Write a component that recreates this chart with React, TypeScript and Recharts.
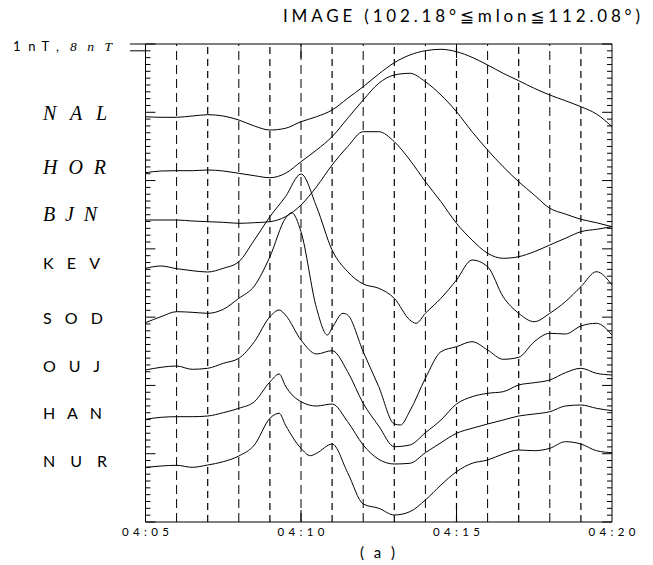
import React from 'react';
import { LineChart, Line, XAxis, YAxis, ReferenceLine } from 'recharts';

// minutes after 04:05 on x; height in plot units (0 = bottom frame, 478 = top frame) on y
const timeTicks = [0, 5, 10, 15];
const timeLabels = ['04:05', '04:10', '04:15', '04:20'];
const gridMinutes = [1, 2, 3, 4, 5, 6, 7, 8, 9, 10, 11, 12, 13, 14];

const stations = ['NAL', 'HOR', 'BJN', 'KEV', 'SOD', 'OUJ', 'HAN', 'NUR'];
const italicStations = ['NAL', 'HOR', 'BJN'];

const NAL = [[0, 405.3], [0.5, 404.7], [1, 404.7], [1.5, 406], [2, 407.3], [2.5, 406], [3, 402], [3.5, 396], [4, 392], [4.5, 393.7], [5, 400.3], [5.5, 405.3], [6, 412], [6.5, 423.7], [7, 435.3], [7.5, 448], [8, 459.3], [8.5, 467], [9, 471.3], [9.5, 472.7], [10, 470.3], [10.5, 464.7], [11, 457], [11.5, 448.7], [12, 441.3], [12.5, 433.7], [13, 427], [13.5, 421.3], [14, 415.3], [14.5, 408], [15, 395.3]];
const HOR = [[0, 349.3], [0.5, 351], [1, 351.3], [1.5, 351.3], [2, 352], [2.5, 351], [3, 348.7], [3.5, 346.3], [4, 344.3], [4.5, 348.7], [5, 360.3], [5.5, 372], [6, 385.3], [6.5, 403.7], [7, 422], [7.5, 438.7], [8, 447], [8.5, 448.7], [9, 440.3], [9.5, 427], [10, 410.3], [10.5, 390.3], [11, 372], [11.5, 355.3], [12, 340.3], [12.5, 327], [13, 313.7], [13.5, 308], [14, 302.7], [14.5, 299.3], [15, 295.3]];
const BJN = [[0, 302], [0.5, 302], [1, 302], [1.5, 301], [2, 300.3], [2.5, 299.7], [3, 298.7], [3.5, 299.3], [4, 300.3], [4.5, 305.3], [5, 317], [5.5, 335.3], [6, 357], [6.5, 375.3], [7, 390.3], [7.5, 390.3], [8, 380.3], [8.5, 362], [9, 340.3], [9.5, 320.3], [10, 298.7], [10.5, 282], [11, 268.7], [11.5, 263.7], [12, 265.3], [12.5, 270.3], [13, 277], [13.5, 283.7], [14, 290.3], [14.5, 292.7], [15, 295.3]];
const KEV = [[0, 253.7], [0.5, 256], [1, 253.3], [1.5, 251.3], [2, 250], [2.5, 253.7], [3, 260.3], [3.5, 282], [4, 305.3], [4.5, 325.3], [5, 348], [5.5, 315.3], [6, 272], [6.5, 250.3], [7, 238], [7.5, 233.7], [8, 223.7], [8.5, 202], [8.7, 198.7], [9, 208.7], [9.5, 223.7], [10, 242], [10.5, 262], [11, 255.3], [11.5, 225.3], [12, 208.7], [12.5, 200.3], [13, 208.7], [13.5, 220.3], [14, 235.3], [14.5, 250.3], [15, 237]];
const SOD = [[0, 199.3], [0.5, 205.3], [1, 210.3], [1.5, 209.7], [2, 208.7], [2.5, 212.7], [3, 223.7], [3.5, 236], [4, 265.3], [4.5, 303.7], [4.7, 309.3], [5, 290.3], [5.5, 213.7], [5.85, 187], [6, 194], [6.35, 208.7], [6.5, 207], [7, 170.3], [7.5, 135.3], [8, 98], [8.2, 97], [8.5, 111], [9, 143.7], [9.5, 170.3], [10, 175.3], [10.5, 180.3], [11, 172], [11.5, 162.7], [12, 164.7], [12.5, 180.3], [13, 188.7], [13.5, 188], [14, 196], [14.5, 198.7], [15, 187]];
const OUJ = [[0, 152], [0.5, 154.7], [1, 156], [1.5, 152.7], [2, 153.7], [2.5, 158.7], [3, 163.7], [3.5, 180.3], [4, 205.3], [4.3, 212], [4.5, 207], [5, 182], [5.5, 168], [6, 171.3], [6.5, 150.3], [7, 118.7], [7.5, 96], [8, 75.3], [8.5, 77], [9, 89.3], [9.5, 102], [10, 118], [10.5, 125.3], [11, 128.7], [11.5, 130.3], [12, 137], [12.5, 139.3], [13, 142], [13.5, 149.3], [14, 153.7], [14.5, 148.7], [15, 147]];
const HAN = [[0, 102.7], [0.5, 104.7], [1, 105.3], [1.5, 105.3], [2, 106], [2.5, 109.3], [3, 113.7], [3.5, 120.3], [4, 140], [4.3, 148], [4.5, 136], [5, 120.3], [5.5, 116], [6, 118], [6.5, 100.3], [7, 77], [7.5, 62.7], [8, 58], [8.5, 58.7], [9, 69.3], [9.5, 79.3], [10, 88.7], [10.5, 93.7], [11, 98], [11.5, 102], [12, 106], [12.5, 108], [13, 110.3], [13.5, 116], [14, 117], [14.5, 113.7], [15, 111.3]];
const NUR = [[0, 54.7], [0.5, 56], [1, 56.7], [1.5, 54.7], [2, 57], [2.5, 60.3], [3, 66], [3.5, 77], [4, 103.7], [4.3, 108.7], [4.5, 97], [5, 73.7], [5.3, 66.3], [5.5, 68.7], [6, 78], [6.5, 49.3], [7, 18], [7.5, 13.7], [8, 7], [8.5, 10.3], [9, 22], [9.5, 37], [10, 50.3], [10.5, 58.7], [11, 62], [11.5, 68], [12, 72], [12.5, 71.3], [13, 73.7], [13.5, 80.3], [14, 78], [14.5, 71.3], [15, 69.3]];

const series = [NAL, HOR, BJN, KEV, SOD, OUJ, HAN, NUR];

const W = 653;
const H = 565;
const Y_MAX = 478;
const X_MAX = 15;
// frame ticks: 10 minor steps per major step, 7 major steps on the height
const frameTicks = Array.from({ length: 71 }, (_, i) => ({ v: (i * Y_MAX) / 70, major: i % 10 === 0 }));
const MINOR_LEN = 0.16; // minutes (~5px)
const MAJOR_LEN = 0.32;

// label layout (page px)
const labelLayout = [
  { y: 120, w: 64 },
  { y: 174, w: 63 },
  { y: 221, w: 54 },
  { y: 268.5, w: 57 },
  { y: 323.5, w: 60 },
  { y: 372, w: 57 },
  { y: 418.5, w: 59 },
  { y: 466.5, w: 64 },
];

const sans = 'Lato, Roboto, "DejaVu Sans", sans-serif';
const serif = '"Liberation Serif", "DejaVu Serif", serif';

const TimeTick = (props: any) => {
  const { x, y, payload } = props;
  const i = timeTicks.indexOf(payload.value);
  return (
    <text x={x} y={y} dy="0.71em" textAnchor="middle" fontFamily={sans} fontSize={11.5}
      fill="#000" textLength={47} lengthAdjust="spacing">
      {timeLabels[i]}
    </text>
  );
};

const App: React.FC = () => {
  return (
    <div style={{ position: 'absolute', left: 0, top: 0, width: W, height: H, background: '#fff' }}>
      <LineChart width={W} height={H} margin={{ top: 44, right: 41, bottom: 23, left: 145.5 }}>
        <XAxis dataKey="t" type="number" domain={[0, X_MAX]} ticks={timeTicks} interval={0}
          height={20} tickLine={false} tickSize={4} tickMargin={2}
          axisLine={{ stroke: '#000' }} tick={<TimeTick />} allowDataOverflow />
        <YAxis yAxisId="L" type="number" domain={[0, Y_MAX]} width={0.01} mirror tick={false}
          tickLine={false} axisLine={{ stroke: '#000' }} />
        <YAxis yAxisId="R" orientation="right" type="number" domain={[0, Y_MAX]} width={0.01} mirror
          tick={false} tickLine={false} axisLine={{ stroke: '#000' }} />

        {gridMinutes.map((m, i) => (
          <ReferenceLine key={'g' + m} yAxisId="L" x={m} stroke="#000"
            strokeWidth={i % 2 === 0 ? 1 : 1.2} strokeDasharray={i % 2 === 0 ? '9 5' : '7 5'} />
        ))}
        <ReferenceLine yAxisId="L" y={Y_MAX} stroke="#000" />

        {frameTicks.map((tk, i) => (
          <ReferenceLine key={'fl' + i} yAxisId="L" stroke="#000" strokeWidth={1}
            segment={[{ x: 0, y: tk.v }, { x: tk.major ? MAJOR_LEN : MINOR_LEN, y: tk.v }]} />
        ))}
        {frameTicks.map((tk, i) => (
          <ReferenceLine key={'fr' + i} yAxisId="L" stroke="#000" strokeWidth={1}
            segment={[{ x: X_MAX, y: tk.v }, { x: X_MAX - (tk.major ? MAJOR_LEN : MINOR_LEN), y: tk.v }]} />
        ))}

        {[5, 10].map((m) => (
          <ReferenceLine key={'tt' + m} yAxisId="L" stroke="#000"
            segment={[{ x: m, y: Y_MAX }, { x: m, y: Y_MAX - 14 }]} />
        ))}
        {[5, 10].map((m) => (
          <ReferenceLine key={'tb' + m} yAxisId="L" stroke="#000"
            segment={[{ x: m, y: 0 }, { x: m, y: 12 }]} />
        ))}
        <ReferenceLine yAxisId="L" stroke="#000" ifOverflow="visible"
          segment={[{ x: -0.5, y: Y_MAX }, { x: 0, y: Y_MAX }]} />
        <ReferenceLine yAxisId="L" stroke="#000" ifOverflow="visible"
          segment={[{ x: -0.5, y: Y_MAX - 6.8 }, { x: 0, y: Y_MAX - 6.8 }]} />

        {series.map((s, i) => (
          <Line key={stations[i]} yAxisId="L" data={s.map(([t, v]) => ({ t, v }))} dataKey="v"
            type="monotone" stroke="#000" strokeWidth={1} dot={false} activeDot={false}
            isAnimationActive={false} />
        ))}
      </LineChart>
      <svg width={W} height={H} style={{ position: 'absolute', left: 0, top: 0, pointerEvents: 'none' }}>
        <text x={283} y={22} fontFamily={sans} fontSize={17} fill="#000"
          textLength={357} lengthAdjust="spacing">
          IMAGE (102.18°≦mlon≦112.08°)
        </text>
        <text x={13} y={51} fontFamily={sans} fontSize={13} fill="#000" textLength={46} lengthAdjust="spacing">1nT,</text>
        <text x={70} y={51} fontFamily={serif} fontStyle="italic" fontSize={13.5} fill="#000" textLength={42} lengthAdjust="spacing">8nT</text>
        {stations.map((name, i) => {
          const it = italicStations.includes(name);
          return (
            <text key={name} x={43} y={labelLayout[i].y} fontFamily={it ? serif : sans}
              fontStyle={it ? 'italic' : 'normal'} fontSize={it ? 20 : 16}
              fill="#000" textLength={labelLayout[i].w} lengthAdjust="spacing">
              {name}
            </text>
          );
        })}
        <text x={360} y={558} fontFamily={sans} fontSize={15} fill="#000"
          textLength={35} lengthAdjust="spacing">(a)</text>
      </svg>
    </div>
  );
};

export default App;
